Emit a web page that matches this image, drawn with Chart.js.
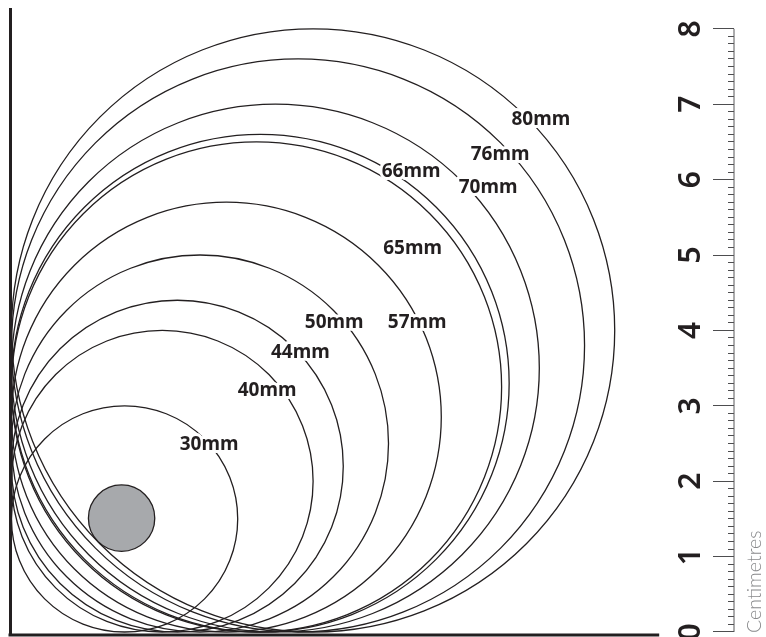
<!DOCTYPE html>
<html>
<head>
<meta charset="utf-8">
<script src="https://cdn.jsdelivr.net/npm/chart.js@4.4.1/dist/chart.umd.min.js"></script>
<style>
  html, body { margin: 0; padding: 0; background: #ffffff; overflow: hidden; }
  canvas { display: block; }
</style>
</head>
<body>
<canvas id="c" width="766" height="637" style="width:766px;height:637px"></canvas>
<script>
// ---------- data ----------
const DIAMETERS_MM = [30, 40, 44, 50, 57, 65, 66, 70, 76, 80];
const DIAMETER_LABELS = ['30mm', '40mm', '44mm', '50mm', '57mm', '65mm', '66mm', '70mm', '76mm', '80mm'];
const HUB_CENTER_CM = [1.46, 1.51];
const HUB_DIAMETER_CM = 0.88;
const RULER_LABELS = ['0', '1', '2', '3', '4', '5', '6', '7', '8'];
const RULER_MINOR_STEP_CM = 0.1;
const BASELINE_LENGTH_CM = 8.57;
const AXIS_TITLE = 'Centimetres';

// ---------- styling / layout ----------
const INK = '#231f20';
const X_MIN = -0.0199, X_MAX = 9.582;
const Y_MIN = -0.0398, Y_MAX = 8.263;
const RULER_TOP = RULER_LABELS.length - 1;
// where each size label sits (cm, chart coordinates)
const LABEL_ANCHORS = [
  [2.62, 2.49], [3.39, 3.20], [3.83, 3.70], [4.28, 4.10], [5.38, 4.10],
  [5.32, 5.09], [5.30, 6.10], [6.32, 5.90], [6.48, 6.33], [7.02, 6.79]
];

function isWhole(v) { return Math.abs(v - Math.round(v)) < 1e-6; }
function onRuler(v) { return v > -1e-6 && v < RULER_TOP + 1e-6; }

// circles are drawn at the centres Chart.js computed for each data point,
// with a radius taken from the x scale (cm -> px)
const discsPlugin = {
  id: 'discs',
  afterDatasetsDraw(chart) {
    const { ctx } = chart;
    const xs = chart.scales.x, ys = chart.scales.y;
    const pxPerCm = xs.getPixelForValue(1) - xs.getPixelForValue(0);
    ctx.save();
    ctx.strokeStyle = INK;
    ctx.lineWidth = 1.3;
    const discMeta = chart.getDatasetMeta(0);
    DIAMETERS_MM.forEach((d, i) => {
      const el = discMeta.data[i];
      const cx = el && isFinite(el.x) ? el.x : xs.getPixelForValue(d / 20);
      const cy = el && isFinite(el.y) ? el.y : ys.getPixelForValue(d / 20);
      ctx.beginPath();
      ctx.arc(cx, cy, pxPerCm * d / 20, 0, Math.PI * 2);
      ctx.stroke();
    });
    const hubMeta = chart.getDatasetMeta(1);
    const h = hubMeta.data[0];
    const hx = h && isFinite(h.x) ? h.x : xs.getPixelForValue(HUB_CENTER_CM[0]);
    const hy = h && isFinite(h.y) ? h.y : ys.getPixelForValue(HUB_CENTER_CM[1]);
    ctx.beginPath();
    ctx.arc(hx, hy, pxPerCm * HUB_DIAMETER_CM / 2, 0, Math.PI * 2);
    ctx.fillStyle = '#a7a9ac';
    ctx.fill();
    ctx.stroke();

    // size labels with a white halo that interrupts the circle lines
    ctx.font = "bold 19px 'Noto Sans'";
    ctx.textAlign = 'center';
    ctx.textBaseline = 'middle';
    ctx.lineJoin = 'round';
    DIAMETER_LABELS.forEach((t, i) => {
      const px = xs.getPixelForValue(LABEL_ANCHORS[i][0]);
      const py = ys.getPixelForValue(LABEL_ANCHORS[i][1]);
      ctx.strokeStyle = '#ffffff';
      ctx.lineWidth = 6;
      ctx.strokeText(t, px, py);
      ctx.fillStyle = INK;
      ctx.fillText(t, px, py);
    });
    ctx.restore();
  },
  afterDraw(chart) {
    const { ctx } = chart;
    const ys = chart.scales.y;
    const yR = chart.scales.yR;
    ctx.save();
    ctx.translate(yR.right - 5, ys.getPixelForValue(0) + 1);
    ctx.rotate(-Math.PI / 2);
    ctx.font = "300 19.5px Lato";
    ctx.fillStyle = '#88898b';
    ctx.textAlign = 'left';
    ctx.textBaseline = 'alphabetic';
    ctx.fillText(AXIS_TITLE, 0, 0);
    ctx.restore();
  }
};

new Chart(document.getElementById('c'), {
  type: 'scatter',
  data: {
    datasets: [
      {
        label: 'discs',
        data: DIAMETERS_MM.map(d => ({ x: d / 20, y: d / 20 })),
        pointRadius: 0,
        pointHoverRadius: 0,
        showLine: false,
        clip: false,
        xAxisID: 'x', yAxisID: 'y'
      },
      {
        label: 'hub',
        data: [{ x: HUB_CENTER_CM[0], y: HUB_CENTER_CM[1] }],
        pointRadius: 0,
        pointHoverRadius: 0,
        showLine: false,
        clip: false,
        xAxisID: 'x', yAxisID: 'y'
      },
      {
        label: 'baseline',
        data: [{ x: X_MIN, y: Y_MIN }, { x: BASELINE_LENGTH_CM, y: Y_MIN }],
        showLine: true,
        borderColor: INK,
        borderWidth: 3,
        borderCapStyle: 'square',
        pointRadius: 0,
        clip: false,
        xAxisID: 'x', yAxisID: 'y'
      },
      {
        label: 'ruler',
        data: [{ x: X_MAX, y: 0 }, { x: X_MAX, y: RULER_TOP }],
        showLine: true,
        borderColor: '#58595b',
        borderWidth: 1,
        pointRadius: 0,
        clip: false,
        xAxisID: 'x', yAxisID: 'y'
      }
    ]
  },
  options: {
    responsive: false,
    animation: false,
    events: [],
    layout: { autoPadding: false, padding: { left: 10, right: 0, top: 9, bottom: 2 } },
    plugins: { legend: { display: false }, tooltip: { enabled: false }, title: { display: false } },
    scales: {
      x: { type: 'linear', min: X_MIN, max: X_MAX, display: false },
      y: {
        type: 'linear', position: 'left', min: Y_MIN, max: Y_MAX,
        grid: { display: false, drawTicks: false },
        ticks: { display: false },
        border: { display: true, width: 3, color: INK }
      },
      yR: {
        type: 'linear', position: 'right', min: Y_MIN, max: Y_MAX,
        afterFit: (s) => { s.width = 32; },
        border: { display: false },
        grid: {
          display: true,
          drawOnChartArea: false,
          drawTicks: true,
          tickLength: -21,
          lineWidth: 1,
          tickWidth: 1,
          tickColor: (ctx) => (ctx.tick && onRuler(ctx.tick.value)) ? '#4d4d4f' : 'rgba(0,0,0,0)',
          tickBorderDash: (ctx) => (ctx.tick && isWhole(ctx.tick.value)) ? [] : [6, 40]
        },
        ticks: {
          stepSize: RULER_MINOR_STEP_CM,
          includeBounds: false,
          autoSkip: false,
          minRotation: 90,
          maxRotation: 90,
          mirror: true,
          crossAlign: 'center',
          padding: -34,
          color: INK,
          font: { family: "'Noto Sans'", size: 30, weight: '600' },
          callback: (v) => (isWhole(v) && onRuler(v)) ? RULER_LABELS[Math.round(v)] : ''
        }
      }
    }
  },
  plugins: [discsPlugin]
});
</script>
</body>
</html>
